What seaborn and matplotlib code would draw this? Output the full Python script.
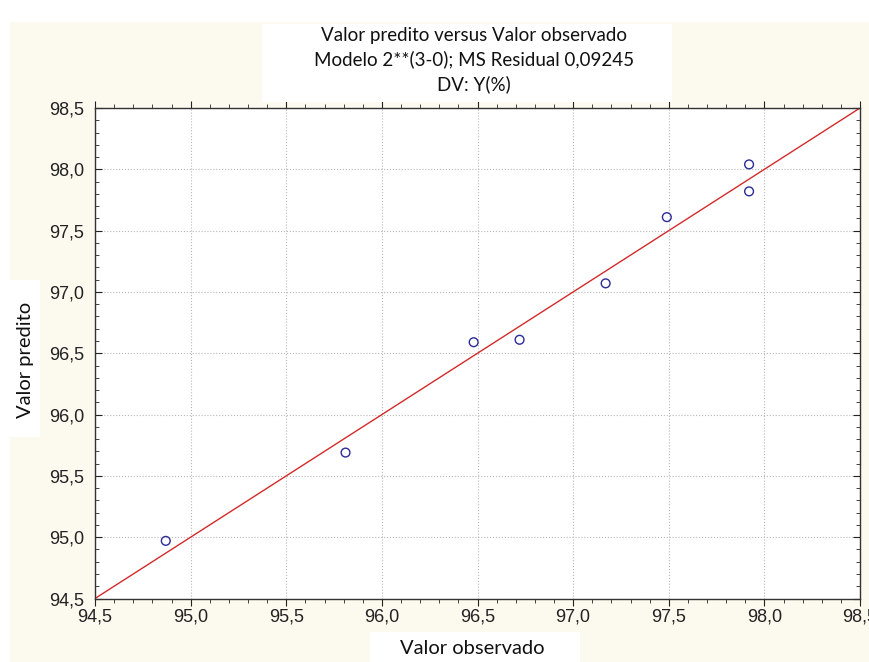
import matplotlib
matplotlib.use("Agg")
import matplotlib.pyplot as plt
import matplotlib.ticker as mticker
from matplotlib.patches import Rectangle
import seaborn as sns
import pandas as pd

observed = [94.87, 95.81, 96.48, 96.72, 97.17, 97.49, 97.92, 97.92]
predicted = [94.97, 95.69, 96.59, 96.61, 97.07, 97.61, 98.04, 97.82]
ref_line = [94.5, 98.5]
ticks = [94.5, 95.0, 95.5, 96.0, 96.5, 97.0, 97.5, 98.0, 98.5]

title = "Valor predito versus Valor observado\nModelo 2**(3-0); MS Residual 0,09245\nDV: Y(%)"
xlabel = "Valor observado"
ylabel = "Valor predito"

sns.set_style("white")
plt.rcParams['font.family'] = ['Liberation Sans', 'DejaVu Sans']

cream = "#fcf9ee"
fig = plt.figure(figsize=(8.69, 6.62), dpi=100, facecolor=cream)
W, H = 869, 662
# white border on top and left
fig.patches.append(Rectangle((0, 1 - 22 / H), 1, 22 / H, transform=fig.transFigure, facecolor="white", edgecolor="none", zorder=0))
fig.patches.append(Rectangle((0, 0), 10 / W, 1, transform=fig.transFigure, facecolor="white", edgecolor="none", zorder=0))
# white boxes behind title, xlabel and ylabel
fig.patches.append(Rectangle((262 / W, 1 - 102 / H), 410 / W, 78 / H, transform=fig.transFigure, facecolor="white", edgecolor="none", zorder=0))
fig.patches.append(Rectangle((370 / W, 0), 210 / W, 30 / H, transform=fig.transFigure, facecolor="white", edgecolor="none", zorder=0))
fig.patches.append(Rectangle((10 / W, 1 - 437 / H), 30 / W, 157 / H, transform=fig.transFigure, facecolor="white", edgecolor="none", zorder=0))

ax = fig.add_axes([95 / W, 1 - 598.5 / H, 765 / W, 490.5 / H])
ax.set_facecolor("white")

df = pd.DataFrame({"obs": observed, "pred": predicted})
line_df = pd.DataFrame({"x": ref_line, "y": ref_line})

sns.lineplot(data=line_df, x="x", y="y", ax=ax, color="#d42a2a", linewidth=1.0, zorder=2)
sns.scatterplot(data=df, x="obs", y="pred", ax=ax, marker="o", s=40,
                facecolor="none", edgecolor="#2b2b9a", linewidth=1.0, zorder=3)

ax.set_xlim(ticks[0], ticks[-1])
ax.set_ylim(ticks[0], ticks[-1])
ax.set_xticks(ticks)
ax.set_yticks(ticks)
fmt = mticker.FuncFormatter(lambda v, p: f"{v:.1f}".replace(".", ","))
ax.xaxis.set_major_formatter(fmt)
ax.yaxis.set_major_formatter(fmt)
ax.xaxis.set_minor_locator(mticker.MultipleLocator(0.1))
ax.yaxis.set_minor_locator(mticker.MultipleLocator(0.1))
ax.tick_params(axis="both", which="major", labelsize=13, colors="#222222", labelcolor="#222222")
ax.tick_params(axis="x", which="both", direction="out", top=True, bottom=True)
ax.tick_params(axis="y", which="both", direction="in", left=True, right=True)
ax.tick_params(axis="x", which="major", length=5, width=0.8, pad=2)
ax.tick_params(axis="x", which="minor", length=3, width=0.6)
ax.tick_params(axis="y", which="major", length=5, width=0.8, pad=8)
ax.tick_params(axis="y", which="minor", length=3, width=0.6)
ax.grid(True, which="major", linestyle=":", color="#b8b8b8", linewidth=0.8)
for s in ax.spines.values():
    s.set_visible(True)
    s.set_color("#333333")
    s.set_linewidth(1.0)

ax.set_xlabel("")
ax.set_ylabel("")
fig.text(474 / W, 1 - 60 / H, title, ha="center", va="center", fontsize=13.5,
         family=["Lato", "DejaVu Sans"], linespacing=1.42, color="#111111")
fig.text(472 / W, 1 - 648 / H, xlabel, ha="center", va="center", fontsize=14.5,
         family=["Lato", "DejaVu Sans"], color="#111111")
fig.text(26 / W, 1 - 360 / H, ylabel, ha="center", va="center", rotation=90, fontsize=14.5,
         family=["Lato", "DejaVu Sans"], color="#111111")

fig.savefig("out.png", dpi=100, facecolor=fig.get_facecolor())
